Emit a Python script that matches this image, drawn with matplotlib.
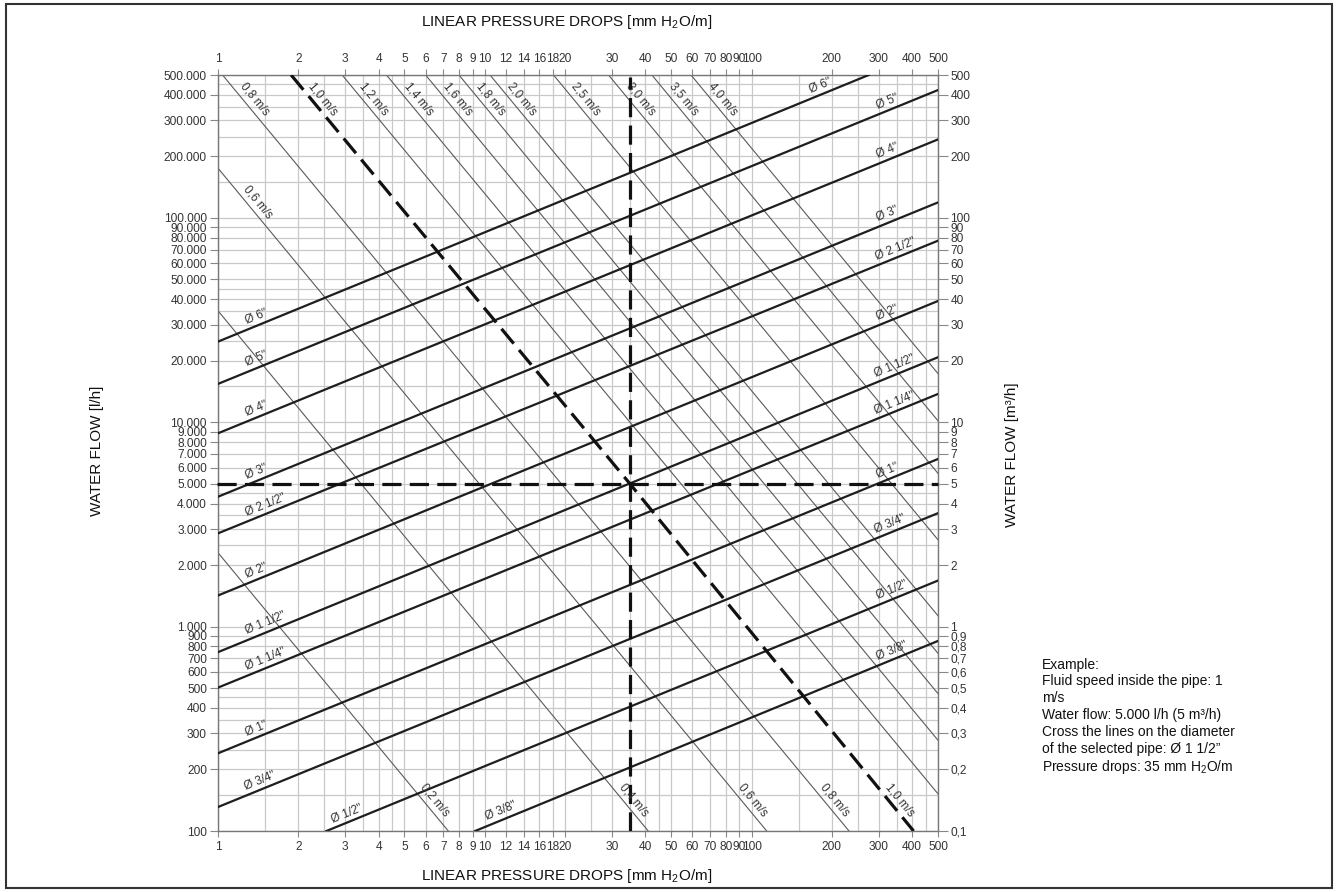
import numpy as np
import matplotlib
matplotlib.use("Agg")
import matplotlib.pyplot as plt
from matplotlib import font_manager
from matplotlib.patches import Rectangle

# ---- values ----
pressure_ticks = [1, 2, 3, 4, 5, 6, 7, 8, 9, 10, 12, 14, 16, 18, 20,
                  30, 40, 50, 60, 70, 80, 90, 100, 200, 300, 400, 500]
pressure_grid = [1, 1.5, 2, 2.5, 3, 3.5, 4, 4.5, 5, 6, 7, 8, 9,
                 10, 12, 14, 16, 18, 20, 25, 30, 35, 40, 45, 50, 60, 70, 80, 90,
                 100, 150, 200, 250, 300, 350, 400, 450, 500]

flow_ticks = [100, 200, 300, 400, 500, 600, 700, 800, 900,
              1000, 2000, 3000, 4000, 5000, 6000, 7000, 8000, 9000,
              10000, 20000, 30000, 40000, 50000, 60000, 70000, 80000, 90000,
              100000, 200000, 300000, 400000, 500000]
flow_labels_lh = ["100", "200", "300", "400", "500", "600", "700", "800", "900",
                  "1.000", "2.000", "3.000", "4.000", "5.000", "6.000", "7.000", "8.000", "9.000",
                  "10.000", "20.000", "30.000", "40.000", "50.000", "60.000", "70.000", "80.000", "90.000",
                  "100.000", "200.000", "300.000", "400.000", "500.000"]
flow_labels_m3h = ["0,1", "0,2", "0,3", "0,4", "0,5", "0,6", "0,7", "0,8", "0,9",
                   "1", "2", "3", "4", "5", "6", "7", "8", "9",
                   "10", "20", "30", "40", "50", "60", "70", "80", "90",
                   "100", "200", "300", "400", "500"]
flow_grid = [100, 150, 200, 250, 300, 350, 400, 450, 500, 600, 700, 800, 900,
             1000, 1500, 2000, 2500, 3000, 3500, 4000, 4500, 5000, 6000, 7000, 8000, 9000,
             10000, 15000, 20000, 25000, 30000, 35000, 40000, 45000, 50000, 60000, 70000, 80000, 90000,
             100000, 150000, 200000, 250000, 300000, 350000, 400000, 450000, 500000]

# pipe diameter lines: two end points (pressure drop mm H2O/m, flow l/h)
pipe_names = ['Ø 6"', 'Ø 5"', 'Ø 4"', 'Ø 3"', 'Ø 2 1/2"', 'Ø 2"',
              'Ø 1 1/2"', 'Ø 1 1/4"', 'Ø 1"', 'Ø 3/4"', 'Ø 1/2"', 'Ø 3/8"']
pipe_start_j = [1, 1, 1, 1, 1, 1, 1, 1, 1, 1, 2.55, 9.2]
pipe_start_q = [24800, 15400, 8830, 4320, 2860, 1420, 750, 503, 240, 131, 100, 100]
pipe_end_j = [275, 500, 500, 500, 500, 500, 500, 500, 500, 500, 500, 500]
pipe_end_q = [500000, 422000, 242000, 119000, 77300, 39200, 20800, 13750, 6610, 3590, 1680, 851]

# fluid speed lines
speed_names = ["0,2 m/s", "0,4 m/s", "0,6 m/s", "0,8 m/s", "1,0 m/s", "1,2 m/s", "1,4 m/s",
               "1,6 m/s", "1,8 m/s", "2,0 m/s", "2,5 m/s", "3,0 m/s", "3,5 m/s", "4,0 m/s"]
speed_start_j = [1, 1, 1, 1.04, 1.88, 2.92, 4.28, 6.0, 8.0, 10.46, 18.1, 29.1, 42.3, 59.3]
speed_start_q = [2300, 35100, 175000, 500000, 500000, 500000, 500000,
                 500000, 500000, 500000, 500000, 500000, 500000, 500000]
speed_end_j = [7.3, 41, 114, 232, 405, 500, 500, 500, 500, 500, 500, 500, 500, 500]
speed_end_q = [100, 100, 100, 100, 100, 152, 278, 470, 740, 1130, 2660, 5620, 10160, 17300]

# worked example: 1 m/s, 5.000 l/h, 35 mm H2O/m
example_speed_j = [1.88, 35, 405]
example_speed_q = [500000, 5000, 100]
example_flow = 5000
example_drop = 35

example_lines = ["Example:",
                 "Fluid speed inside the pipe: 1",
                 "m/s",
                 "Water flow: 5.000 l/h (5 m³/h)",
                 "Cross the lines on the diameter",
                 "of the selected pipe: Ø 1 1/2”",
                 "Pressure drops: 35 mm H$_2$O/m"]

# ---- label placement (layout only) ----
pipe_label_left_j = [1.43, 1.43, 1.43, 1.43, 1.55, 1.43, 1.55, 1.55, 1.43, 1.48, 3.12, 11.8]
pipe_label_right_j = [186, 331, 331, 331, 355, 331, 352, 352, 331, 340, 345, 345]
speed_label_q = [[133], [133], [112000, 133], [356000, 133], [356000, 133], [356000], [356000],
                 [356000], [356000], [356000], [356000], [356000], [356000], [356000]]

names = {f.name for f in font_manager.fontManager.ttflist}
narrow = "Liberation Sans Narrow" if "Liberation Sans Narrow" in names else "Liberation Sans"
plt.rcParams["font.family"] = [narrow, "DejaVu Sans"]
plt.rcParams["mathtext.fontset"] = "custom"
plt.rcParams["mathtext.rm"] = "Liberation Sans"
plt.rcParams["mathtext.it"] = "Liberation Sans:italic"

GRID = "#c9c9c9"
TXT = "#333333"


def q_at_j(j0, q0, j1, q1, j):
    t = (np.log10(j) - np.log10(j0)) / (np.log10(j1) - np.log10(j0))
    return 10 ** (np.log10(q0) + t * (np.log10(q1) - np.log10(q0)))


def j_at_q(j0, q0, j1, q1, q):
    t = (np.log10(q) - np.log10(q0)) / (np.log10(q1) - np.log10(q0))
    return 10 ** (np.log10(j0) + t * (np.log10(j1) - np.log10(j0)))


def screen_angle(ax, j0, q0, j1, q1):
    p0 = ax.transData.transform((j0, q0))
    p1 = ax.transData.transform((j1, q1))
    return np.degrees(np.arctan2(p1[1] - p0[1], p1[0] - p0[0]))


fig = plt.figure(figsize=(13.38, 8.92), dpi=100)
ax = fig.add_axes([218 / 1338, 61 / 892, 720 / 1338, 756 / 892])
ax.set_xscale("log")
ax.set_yscale("log")
ax.set_xlim(1, 500)
ax.set_ylim(100, 500000)

# grid
for g in pressure_grid:
    ax.axvline(g, color=GRID, lw=0.9, zorder=1)
for g in flow_grid:
    ax.axhline(g, color=GRID, lw=0.9, zorder=1)

# speed lines (thin)
for i, name in enumerate(speed_names):
    if name == "1,0 m/s":
        continue
    ax.plot([speed_start_j[i], speed_end_j[i]], [speed_start_q[i], speed_end_q[i]],
            color="#5a5a5a", lw=0.8, zorder=2)

# pipe lines (thick)
for i in range(len(pipe_names)):
    ax.plot([pipe_start_j[i], pipe_end_j[i]], [pipe_start_q[i], pipe_end_q[i]],
            color="#1e1e1e", lw=1.6, zorder=3)

# example dashed lines
dash_kw = dict(color="#111111", lw=2.3, dashes=(6, 2.6), zorder=4, solid_capstyle="butt")
ax.plot(example_speed_j, example_speed_q, **dash_kw)
ax.plot([0.99, 500], [example_flow, example_flow], clip_on=False, **dash_kw)
ax.plot([example_drop, example_drop], [100, 490000], **dash_kw)

# pipe labels
for i, name in enumerate(pipe_names):
    ang = screen_angle(ax, pipe_start_j[i], pipe_start_q[i], pipe_end_j[i], pipe_end_q[i])
    d = 6.0
    off = (-np.sin(np.radians(ang)) * d, np.cos(np.radians(ang)) * d)
    for j in (pipe_label_left_j[i], pipe_label_right_j[i]):
        q = q_at_j(pipe_start_j[i], pipe_start_q[i], pipe_end_j[i], pipe_end_q[i], j)
        ax.annotate(name, xy=(j, q), xytext=off, textcoords="offset points",
                    rotation=ang, rotation_mode="anchor", ha="center", va="center",
                    fontsize=8.5, color=TXT, zorder=5)

# speed labels
for i, name in enumerate(speed_names):
    if name == "1,0 m/s":
        j0, q0, j1, q1 = example_speed_j[0], example_speed_q[0], example_speed_j[2], example_speed_q[2]
    else:
        j0, q0, j1, q1 = speed_start_j[i], speed_start_q[i], speed_end_j[i], speed_end_q[i]
    ang = screen_angle(ax, j0, q0, j1, q1)
    d = 6.5
    off = (-np.sin(np.radians(ang)) * d, np.cos(np.radians(ang)) * d)
    for q in speed_label_q[i]:
        j = j_at_q(j0, q0, j1, q1, q)
        ax.annotate(name, xy=(j, q), xytext=off, textcoords="offset points",
                    rotation=ang, rotation_mode="anchor", ha="center", va="center",
                    fontsize=8.5, color=TXT, zorder=5)

# axes, ticks
ax.xaxis.set_minor_locator(matplotlib.ticker.NullLocator())
ax.yaxis.set_minor_locator(matplotlib.ticker.NullLocator())
ax.set_xticks(pressure_ticks)
ax.set_xticklabels([str(t) for t in pressure_ticks])
ax.set_yticks(flow_ticks)
ax.set_yticklabels(flow_labels_lh)
ax.tick_params(axis="x", which="major", top=True, labeltop=True, length=4, width=0.8,
               color="#888888", labelsize=8.6, labelcolor=TXT, pad=3)
ax.tick_params(axis="y", which="major", length=6, width=0.8, color="#888888",
               labelsize=8.6, labelcolor=TXT, pad=2)
for s in ax.spines.values():
    s.set_color("#777777")
    s.set_linewidth(1.0)

ax2 = ax.twinx()
ax2.set_yscale("log")
ax2.set_ylim(100, 500000)
ax2.yaxis.set_minor_locator(matplotlib.ticker.NullLocator())
ax2.set_yticks(flow_ticks)
ax2.set_yticklabels(flow_labels_m3h)
ax2.tick_params(axis="y", length=7, width=0.8, color="#888888", labelsize=8.6,
                labelcolor=TXT, pad=2)
for s in ax2.spines.values():
    s.set_visible(False)

# titles
title = "LINEAR PRESSURE DROPS [mm H$_2$O/m]"
fig.text(567 / 1338, 1 - 22 / 892, title, ha="center", va="center",
         fontsize=11, family="Liberation Sans", color="#111111")
fig.text(567 / 1338, 1 - 876 / 892, title, ha="center", va="center",
         fontsize=11, family="Liberation Sans", color="#111111")
fig.text(97 / 1338, 1 - 451 / 892, "WATER FLOW [l/h]", rotation=90, ha="center", va="center",
         fontsize=11, family="Liberation Sans", color="#111111")
fig.text(1012 / 1338, 1 - 455 / 892, "WATER FLOW [m³/h]", rotation=90, ha="center", va="center",
         fontsize=11, family="Liberation Sans", color="#111111")

# example note, one text per line so the subscript keeps the spacing even
for k, line in enumerate(example_lines):
    fig.text(1042 / 1338, 1 - (663 + 17 * k) / 892, line, ha="left", va="center_baseline",
             fontsize=10, family="Liberation Sans", color="#111111")

# outer frame
fig.patches.append(Rectangle((6 / 1338, 4 / 892), 1326 / 1338, 884 / 892,
                             transform=fig.transFigure, fill=False,
                             edgecolor="#333333", linewidth=1.5))

fig.savefig("out.png", dpi=100)
